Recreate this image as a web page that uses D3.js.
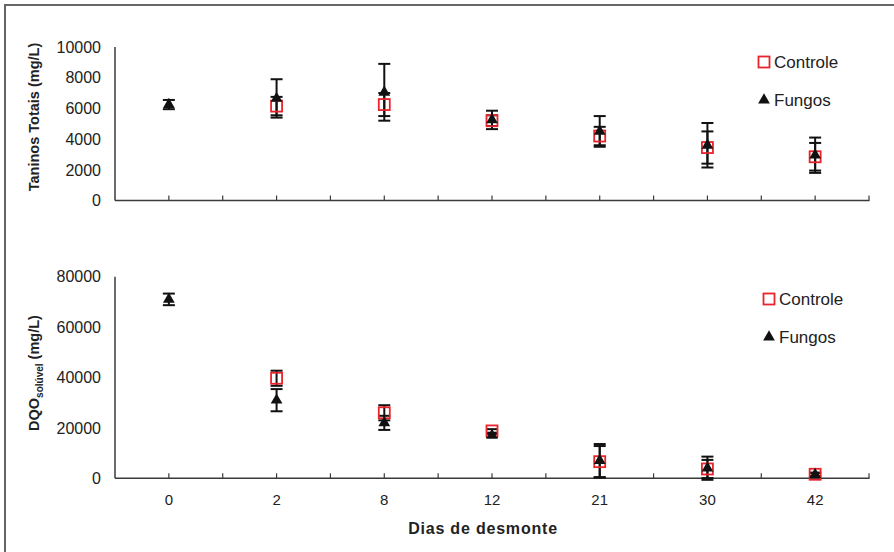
<!DOCTYPE html>
<html>
<head>
<meta charset="utf-8">
<script src="https://cdn.jsdelivr.net/npm/d3@7"></script>
<style>
  html, body { margin: 0; padding: 0; background: #fff; }
  svg { display: block; }
  text { font-family: "Liberation Sans", Arial, Helvetica, sans-serif; fill: #222; }
</style>
</head>
<body>
<svg id="chart" width="894" height="552"></svg>
<script>
// ---- data ----
const days = ["0", "2", "8", "12", "21", "30", "42"];

const taninosControle    = [null, 6150, 6250, 5200, 4200, 3450, 2850];
const taninosControleErr = [null,  600,  750,  350,  600, 1050,  900];
const taninosFungos      = [6250, 6650, 7050, 5250, 4500, 3600, 2950];
const taninosFungosErr   = [ 300, 1250, 1850,  600, 1000, 1450, 1150];

const dqoControle    = [null, 39700, 26000, 18800, 6600, 3700, 1600];
const dqoControleErr = [null,  3000,  3000,   700, 6200, 3600,  600];
const dqoFungos      = [71000, 31000, 22000, 17000, 7000, 4000, 1500];
const dqoFungosErr   = [ 2300,  4400,  2800,   600, 6600, 4600,  700];

const taninosTicks = [0, 2000, 4000, 6000, 8000, 10000];
const dqoTicks = [0, 20000, 40000, 60000, 80000];

const legendLabels = ["Controle", "Fungos"];

// ---- drawing ----
const svg = d3.select("#chart");
const RED = "#e8232c";
const AXIS = "#3a3a3a";

// frame
svg.append("line").attr("x1", 5).attr("x2", 894).attr("y1", 5).attr("y2", 5)
  .attr("stroke", "#666").attr("stroke-width", 2);
svg.append("line").attr("x1", 5).attr("x2", 5).attr("y1", 4).attr("y2", 552)
  .attr("stroke", "#666").attr("stroke-width", 2);

const x = d3.scaleBand().domain(days).range([115, 869]).padding(0);

function panel(opts) {
  const y = d3.scaleLinear().domain(opts.domain).range([opts.y0, opts.y1]);
  const g = svg.append("g");

  // y axis line (no ticks)
  g.append("line").attr("x1", 115).attr("x2", 115)
    .attr("y1", y(opts.domain[1])).attr("y2", y(0))
    .attr("stroke", AXIS).attr("stroke-width", 1.5);

  // y tick labels
  g.selectAll(".ytl").data(opts.ticks).join("text")
    .attr("x", 101).attr("y", d => y(d)).attr("dy", "0.36em")
    .attr("text-anchor", "end").attr("font-size", 16)
    .text(d => d);

  // x axis line and ticks (inward)
  g.append("line").attr("x1", 115).attr("x2", 869.5)
    .attr("y1", y(0)).attr("y2", y(0))
    .attr("stroke", AXIS).attr("stroke-width", 1.5);
  const tickPos = [];
  days.forEach(d => { tickPos.push(x(d)); tickPos.push(x(d) + x.bandwidth() / 2); });
  tickPos.push(x(days[days.length - 1]) + x.bandwidth());
  g.selectAll(".xt").data(tickPos.filter(p => p > 116)).join("line")
    .attr("x1", p => p).attr("x2", p => p)
    .attr("y1", y(0)).attr("y2", y(0) - 5)
    .attr("stroke", AXIS).attr("stroke-width", 1.2);

  if (opts.xLabels) {
    g.selectAll(".xtl").data(days).join("text")
      .attr("x", d => x(d) + x.bandwidth() / 2).attr("y", 500).attr("dy", "0.36em")
      .attr("text-anchor", "middle").attr("font-size", 15)
      .text(d => d);
  }

  const cx = i => x(days[i]) + x.bandwidth() / 2;

  function errBars(vals, errs) {
    vals.forEach((v, i) => {
      if (v == null) return;
      const e = errs[i];
      const top = y(v + e), bot = y(v - e);
      g.append("line").attr("x1", cx(i)).attr("x2", cx(i))
        .attr("y1", top).attr("y2", bot)
        .attr("stroke", "#111").attr("stroke-width", 2);
      [top, bot].forEach(yy => {
        g.append("line").attr("x1", cx(i) - 6).attr("x2", cx(i) + 6)
          .attr("y1", yy).attr("y2", yy)
          .attr("stroke", "#111").attr("stroke-width", 2);
      });
    });
  }
  errBars(opts.ctrl, opts.ctrlErr);
  errBars(opts.fung, opts.fungErr);

  // controle squares
  g.selectAll(".sq").data(opts.ctrl.map((v, i) => ({ v, i })).filter(d => d.v != null))
    .join("rect")
    .attr("x", d => cx(d.i) - 5.5).attr("y", d => y(d.v) - 5.5)
    .attr("width", 11).attr("height", 11)
    .attr("fill", "none").attr("stroke", RED).attr("stroke-width", 1.8);

  // fungos triangles
  const tri = d3.symbol().type(d3.symbolTriangle).size(60);
  g.selectAll(".tr").data(opts.fung.map((v, i) => ({ v, i })).filter(d => d.v != null))
    .join("path")
    .attr("d", tri)
    .attr("transform", d => `translate(${cx(d.i)},${y(d.v)})`)
    .attr("fill", "#111");

  // legend
  const lx = opts.legendX, ly1 = opts.legendY1, ly2 = opts.legendY2;
  g.append("rect").attr("x", lx - 5.5).attr("y", ly1 - 5.5).attr("width", 11).attr("height", 11)
    .attr("fill", "none").attr("stroke", RED).attr("stroke-width", 1.8);
  g.append("text").attr("x", lx + 10).attr("y", ly1).attr("dy", "0.36em")
    .attr("font-size", 17).text(legendLabels[0]);
  g.append("path").attr("d", tri).attr("transform", `translate(${lx},${ly2})`).attr("fill", "#111");
  g.append("text").attr("x", lx + 10).attr("y", ly2).attr("dy", "0.36em")
    .attr("font-size", 17).text(legendLabels[1]);

  return { g, y };
}

panel({
  domain: [0, 10000], y0: 200.5, y1: 47, ticks: taninosTicks,
  ctrl: taninosControle, ctrlErr: taninosControleErr,
  fung: taninosFungos, fungErr: taninosFungosErr,
  xLabels: false, legendX: 764, legendY1: 62, legendY2: 100
});

panel({
  domain: [0, 80000], y0: 478.3, y1: 276.7, ticks: dqoTicks,
  ctrl: dqoControle, ctrlErr: dqoControleErr,
  fung: dqoFungos, fungErr: dqoFungosErr,
  xLabels: true, legendX: 769, legendY1: 299, legendY2: 337
});

// axis titles
svg.append("text")
  .attr("transform", "translate(39,117) rotate(-90)")
  .attr("text-anchor", "middle").attr("font-size", 14.5).attr("font-weight", "bold")
  .text("Taninos Totais (mg/L)");

const t2 = svg.append("text")
  .attr("transform", "translate(39,373) rotate(-90)")
  .attr("text-anchor", "middle").attr("font-size", 14.5).attr("font-weight", "bold");
t2.append("tspan").text("DQO");
t2.append("tspan").attr("font-size", 10).attr("dy", 4).text("solúvel");
t2.append("tspan").attr("dy", -4).text(" (mg/L)");

svg.append("text")
  .attr("x", 483).attr("y", 528).attr("dy", "0.36em")
  .attr("text-anchor", "middle").attr("font-size", 16).attr("font-weight", "bold")
  .attr("letter-spacing", 0.8)
  .text("Dias de desmonte");
</script>
</body>
</html>
